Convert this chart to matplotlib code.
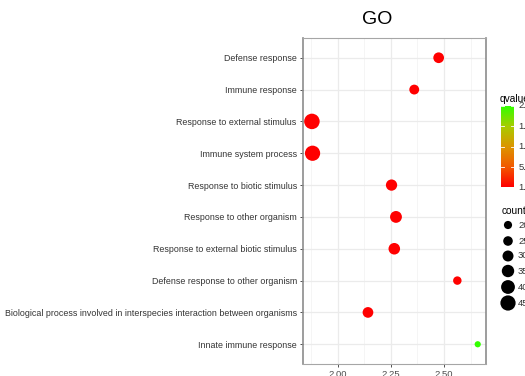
import matplotlib

matplotlib.use("Agg")
import matplotlib.pyplot as plt
import numpy as np
from matplotlib.colors import LinearSegmentedColormap, Normalize

plt.rcParams["font.family"] = ["Liberation Sans", "DejaVu Sans"]

terms = [
    "Defense response",
    "Immune response",
    "Response to external stimulus",
    "Immune system process",
    "Response to biotic stimulus",
    "Response to other organism",
    "Response to external biotic stimulus",
    "Defense response to other organism",
    "Biological process involved in interspecies interaction between organisms",
    "Innate immune response",
]
enrichment = [2.475, 2.36, 1.878, 1.881, 2.253, 2.274, 2.266, 2.563, 2.142, 2.659]
counts = [29, 26, 46, 45, 31, 33, 32, 21, 29, 13]
qvalues = [1.5e-7, 1.6e-7, 1.0e-7, 1.0e-7, 1.2e-7, 1.1e-7, 1.1e-7, 1.8e-7, 1.4e-7, 2.0e-5]

q_ticks = [2.0e-5, 1.5e-5, 1.0e-5, 5.0e-6, 1.0e-7]
q_labels = ["2.0e-05", "1.5e-05", "1.0e-05", "5.0e-06", "1.0e-07"]
count_breaks = [20, 25, 30, 35, 40, 45]

# red -> orange -> yellow-green -> green, as on the qvalue bar
cmap = LinearSegmentedColormap.from_list(
    "red_green",
    [(0.0, "#ff0000"), (0.25, "#f25a00"), (0.5, "#dc9600"), (0.75, "#a8cc00"), (1.0, "#33ff00")],
)
norm = Normalize(vmin=min(qvalues), vmax=max(qvalues))


def dot_diameter(c):
    cmin, cmax = min(counts), max(counts)
    return 6.2 + 9.3 * (np.asarray(c) - cmin) / (cmax - cmin)


def dot_area(c):
    # pixel diameter -> scatter area in points^2 (dpi 100)
    return (dot_diameter(c) * 0.72) ** 2


W, H = 525, 376
fig = plt.figure(figsize=(W / 100, H / 100), dpi=100)


def rect(x0, y0, x1, y1):
    return [x0 / W, 1 - y1 / H, (x1 - x0) / W, (y1 - y0) / H]


ax = fig.add_axes(rect(303, 38, 486, 364))
ypos = np.arange(len(terms))[::-1]
ax.set_axisbelow(True)
ax.scatter(enrichment, ypos, s=dot_area(counts), c=qvalues, cmap=cmap, norm=norm,
           linewidths=0, zorder=3)

ax.set_xlim(1.836, 2.698)
ax.set_ylim(-0.62, len(terms) - 1 + 0.62)
ax.set_yticks(ypos)
ax.set_yticklabels(terms, fontsize=6.4, color="#333333")
ax.set_xticks([2.0, 2.25, 2.5])
ax.set_xticklabels(["2.00", "2.25", "2.50"], fontsize=6.8, color="#4d4d4d")
ax.set_xticks([1.875, 2.125, 2.375, 2.625], minor=True)
ax.tick_params(axis="both", which="major", length=2.5, width=0.6, color="#333333", pad=2)
ax.tick_params(axis="x", which="minor", length=0)
ax.grid(True, which="major", color="#ebebeb", linewidth=0.9)
ax.grid(True, which="minor", axis="x", color="#f2f2f2", linewidth=0.5)
for side in ("left", "right"):
    ax.spines[side].set_color("#8c8c8c")
    ax.spines[side].set_linewidth(1.2)
for side in ("top", "bottom"):
    ax.spines[side].set_color("#a6a6a6")
    ax.spines[side].set_linewidth(0.8)

fig.text(377 / W, 1 - 20 / H, "GO", fontsize=14, ha="center", va="center")

# qvalue colour bar
cax = fig.add_axes(rect(501, 106, 514, 187))
grad = np.linspace(norm.vmin, norm.vmax, 200)[:, None]
cax.imshow(grad, aspect="auto", cmap=cmap, norm=norm, origin="lower",
           extent=[0, 1, norm.vmin, norm.vmax])
cax.set_xlim(0, 1)
cax.set_ylim(norm.vmin, norm.vmax)
cax.set_xticks([])
cax.set_yticks([])
for s in cax.spines.values():
    s.set_visible(False)
for v, lab in zip(q_ticks, q_labels):
    cax.plot([0, 0.2], [v, v], color="white", lw=0.6)
    cax.plot([0.8, 1], [v, v], color="white", lw=0.6)
    cax.text(1.35, v, lab, transform=cax.get_yaxis_transform(), fontsize=6.8,
             va="center", ha="left", color="#333333", clip_on=False)
fig.text(500 / W, 1 - 98.5 / H, "qvalue", fontsize=7.3, va="center", ha="left")

# count size legend
lax = fig.add_axes(rect(496, 215, 525, 312))
lax.set_xlim(496, 525)
lax.set_ylim(312, 215)
lax.axis("off")
legend_y = [225, 241, 256, 271, 287, 303]
lax.scatter([508] * len(count_breaks), legend_y, s=dot_area(count_breaks), color="black",
            linewidths=0, clip_on=False)
for yy, c in zip(legend_y, count_breaks):
    lax.text(518, yy, str(c), fontsize=6.8, va="center", ha="left", color="#333333",
             clip_on=False)
fig.text(502 / W, 1 - 211 / H, "count", fontsize=7.3, va="center", ha="left")

fig.savefig("out.png", dpi=100)
plt.close(fig)
